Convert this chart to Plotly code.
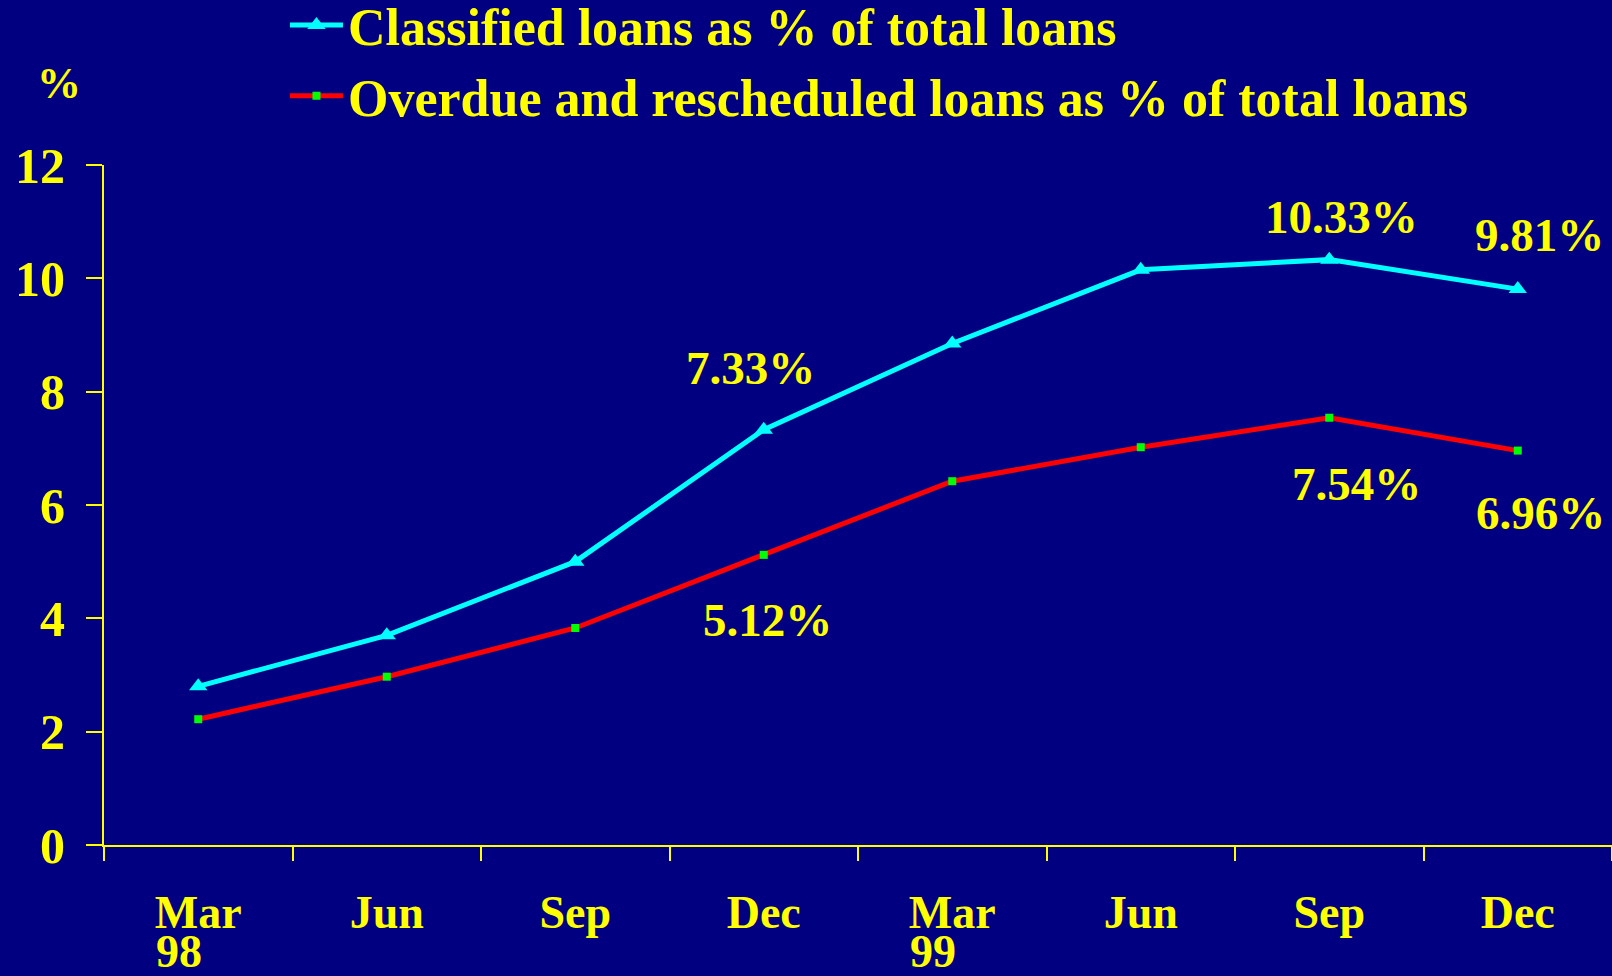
import plotly.graph_objects as go

quarters = ["Mar", "Jun", "Sep", "Dec", "Mar", "Jun", "Sep", "Dec"]
years = {0: "98", 4: "99"}
classified = [2.80, 3.70, 5.00, 7.33, 8.85, 10.15, 10.33, 9.81]
overdue = [2.22, 2.97, 3.83, 5.12, 6.42, 7.02, 7.54, 6.96]
yticks = [0, 2, 4, 6, 8, 10, 12]

# labelled points: (series, index, text, xshift, yshift)
labels = [
    ("c", 3, "7.33%", -13, 62),
    ("o", 3, "5.12%", 4, -65),
    ("c", 6, "10.33%", 12, 43),
    ("c", 7, "9.81%", 22, 54),
    ("o", 6, "7.54%", 27, -66),
    ("o", 7, "6.96%", 23, -62),
]

BG = "#000080"
YEL = "#FFFF00"
FONT = "Liberation Serif"

x = list(range(len(quarters)))

fig = go.Figure()
fig.add_trace(go.Scatter(
    x=x, y=classified, mode="lines+markers",
    name="<b>Classified loans as % of total loans</b>",
    line=dict(color="#00FFFF", width=5),
    marker=dict(symbol="triangle-up", size=16, color="#00FFFF"),
))
fig.add_trace(go.Scatter(
    x=x, y=overdue, mode="lines+markers",
    name="<b>Overdue and rescheduled loans as % of total loans</b>",
    line=dict(color="#FF0000", width=5),
    marker=dict(symbol="square", size=8, color="#00FF00"),
))

ann = []
for s, i, t, dx, dy in labels:
    yv = classified[i] if s == "c" else overdue[i]
    ann.append(dict(x=i, y=yv, text=f"<b>{t}</b>", showarrow=False,
                    xshift=dx, yshift=dy,
                    font=dict(family=FONT, size=47, color=YEL)))
for i, yr in years.items():
    ann.append(dict(x=i, xref="x", y=-131 / 680, yref="paper", text=f"<b>{yr}</b>",
                    showarrow=False, xanchor="left", yanchor="bottom", xshift=-44, yshift=-3,
                    font=dict(family=FONT, size=46, color=YEL)))
ann.append(dict(xref="paper", yref="paper", x=-0.046, y=1.159, text="<b>%</b>",
                showarrow=False, font=dict(family=FONT, size=44, color=YEL)))

fig.update_layout(
    width=1612, height=976,
    paper_bgcolor=BG, plot_bgcolor=BG,
    margin=dict(l=104, r=0, t=165, b=131, autoexpand=False),
    font=dict(family=FONT, size=46, color=YEL),
    showlegend=True,
    legend=dict(x=0.120, y=1.265, xanchor="left", yanchor="top",
                bgcolor="rgba(0,0,0,0)", font=dict(family=FONT, size=52, color=YEL),
                tracegroupgap=0, itemwidth=53),
    xaxis=dict(
        range=[-0.5, 7.5], tickvals=x, ticktext=[f"<b>{q}</b>" for q in quarters],
        ticks="", showgrid=False, zeroline=False,
        showline=True, linecolor=YEL, linewidth=2,
        tickfont=dict(family=FONT, size=46, color=YEL),
        ticklabelstandoff=26,
        minor=dict(tickvals=[i - 0.5 for i in range(len(quarters) + 1)],
                   ticks="outside", ticklen=14, tickcolor=YEL, tickwidth=2, showgrid=False),
    ),
    yaxis=dict(
        range=[0, 12], tickvals=yticks, ticktext=[f"<b>{v}</b>" for v in yticks],
        ticks="outside", ticklen=16, tickcolor=YEL, tickwidth=2,
        showgrid=False, zeroline=False,
        showline=True, linecolor=YEL, linewidth=2,
        tickfont=dict(family=FONT, size=50, color=YEL),
        ticklabelstandoff=11,
    ),
    annotations=ann,
)

fig.write_html(
    "out.html",
    config={"displayModeBar": False},
    post_script="document.body.style.margin='0';document.body.style.overflow='hidden';"
                "document.body.style.background='#000080';",
)
